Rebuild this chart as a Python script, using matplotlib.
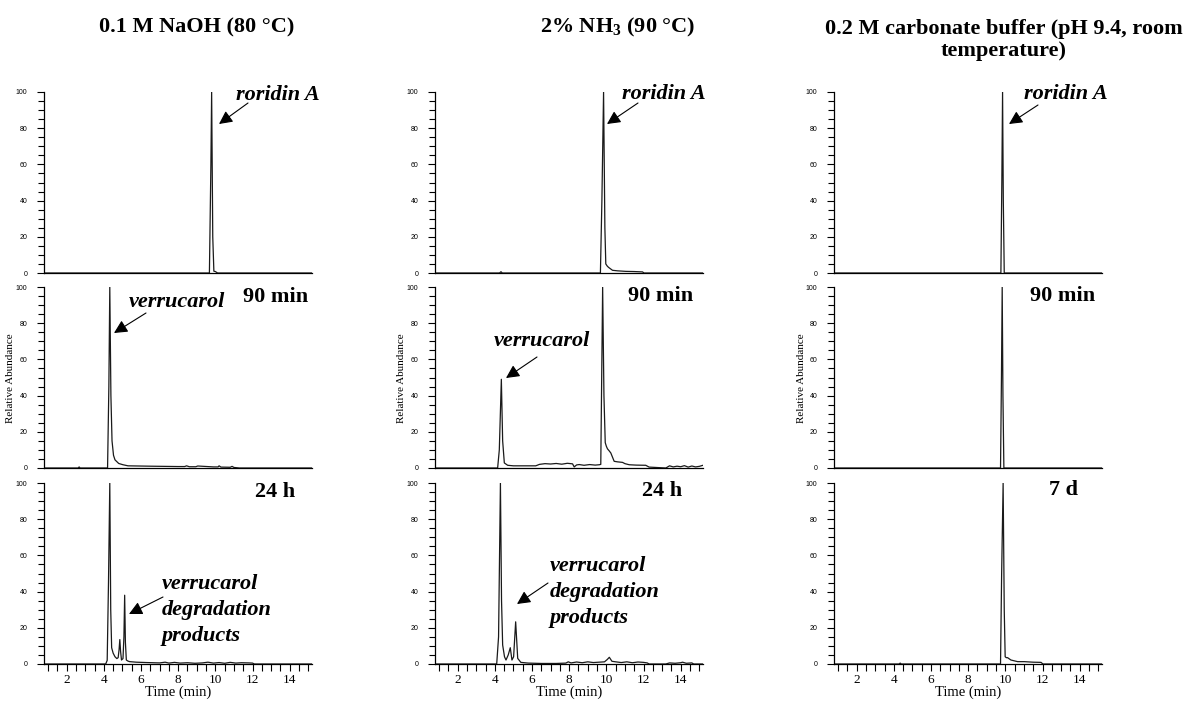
#!/usr/bin/env python3
"""
Chromatograms of roridin A degradation under three conditions
(NaOH / NH3 / carbonate buffer), three time points each.
"""
import matplotlib
matplotlib.use("Agg")
import matplotlib.pyplot as plt
from matplotlib.patches import FancyArrowPatch
from matplotlib.ticker import MultipleLocator

# --- traces: retention time (min) / relative abundance (%) ---
naoh_0_t = [0.78, 9.68, 9.76, 9.80, 9.86, 9.92, 10.0, 10.12, 15.2]
naoh_0_y = [0, 0, 60, 100, 20, 1, 0.8, 0, 0]

naoh_90_t = [0.78, 2.62, 2.67, 2.72, 4.20, 4.27, 4.32, 4.38, 4.44, 4.52, 4.60,
             4.80, 5.03, 5.30, 6.5, 8.0, 8.35, 8.45, 8.6, 8.95, 9.05, 9.9,
             10.15, 10.2, 10.3, 10.8, 10.9, 11.0, 11.3, 15.2]
naoh_90_y = [0, 0, 0.6, 0, 0, 45, 100, 40, 15, 7, 4.5,
             2.5, 1.8, 1.2, 1.0, 0.8, 0.8, 1.2, 0.7, 0.7, 1.1, 0.6,
             0.6, 1.2, 0.5, 0.4, 0.9, 0.3, 0, 0]

naoh_24_t = [0.78, 4.10, 4.18, 4.25, 4.32, 4.37, 4.42, 4.50, 4.60, 4.70, 4.77,
             4.82, 4.86, 4.90, 4.95, 5.03, 5.08, 5.12, 5.16, 5.21, 5.30, 5.39,
             5.75, 6.3, 7.0, 7.3, 7.5, 7.8, 8.1, 8.5, 8.9, 9.3, 9.6, 9.9, 10.2,
             10.5, 10.8, 11.1, 11.4, 11.8, 12.0, 12.1, 15.2]
naoh_24_y = [0, 0, 2, 45, 100, 30, 9, 6, 4, 3, 3.5,
             8, 13.5, 7, 2.2, 3, 15, 38, 12, 2.2, 1.6, 1.3,
             1.0, 0.8, 0.6, 1.0, 0.5, 0.9, 0.5, 0.7, 0.4, 0.6, 1.0, 0.5, 0.8,
             0.4, 0.9, 0.5, 0.7, 0.6, 0.5, 0, 0]

nh3_0_t = [0.78, 4.25, 4.33, 4.40, 9.68, 9.76, 9.85, 9.92, 9.97, 10.05, 10.12,
           10.33, 10.6, 11.05, 11.5, 11.95, 12.02, 15.2]
nh3_0_y = [0, 0, 0.7, 0, 0, 40, 100, 25, 5, 3.8, 3.1,
           1.5, 1.2, 0.9, 0.8, 0.6, 0, 0]

nh3_90_t = [0.78, 4.15, 4.24, 4.35, 4.42, 4.51, 4.69, 5.0, 5.5, 6.2, 6.4, 6.7,
            7.0, 7.3, 7.6, 7.9, 8.18, 8.27, 8.4, 8.54, 8.8, 9.1, 9.4, 9.62,
            9.70, 9.80, 9.87, 9.94, 10.0, 10.06, 10.15, 10.24, 10.33, 10.42,
            10.6, 10.87, 11.0, 11.23, 11.6, 12.12, 12.3, 13.2, 13.4, 13.6,
            13.8, 14.0, 14.2, 14.4, 14.6, 14.8, 15.0, 15.2]
nh3_90_y = [0, 0, 10, 49, 15, 2.8, 1.5, 1.2, 1.2, 1.2, 2.0, 2.4,
            2.2, 2.5, 2.1, 2.6, 2.3, 0.6, 1.7, 1.9, 1.5, 1.9, 1.6, 1.8,
            2, 100, 40, 14, 12, 10.6, 9.5, 8.3, 6, 3.7,
            3.4, 3.1, 2.4, 1.8, 1.6, 1.5, 0.5, 0, 1.2, 0.6,
            1.0, 0.7, 1.3, 0.5, 1.1, 0.6, 0.9, 1.5]

nh3_24_t = [0.78, 4.10, 4.20, 4.30, 4.36, 4.42, 4.52, 4.60, 4.72, 4.83, 4.92,
            5.01, 5.12, 5.23, 5.40, 5.8, 6.5, 7.3, 7.82, 7.95, 8.1, 8.4, 8.7,
            9.0, 9.3, 9.6, 9.9, 10.05, 10.16, 10.3, 10.5, 10.8, 11.1, 11.4,
            11.7, 12.0, 12.2, 12.3, 13.2, 13.4, 13.7, 14.0, 14.1, 14.3, 14.6,
            14.7, 15.2]
nh3_24_y = [0, 0, 15, 100, 35, 10.5, 4, 2.2, 5, 9, 2.2,
            4, 23.3, 3.1, 0.9, 0.5, 0.3, 0.3, 0.5, 1.2, 0.6, 1.1, 0.7,
            1.2, 0.8, 1.0, 1.2, 2.5, 3.7, 1.5, 1.2, 0.8, 1.2, 0.7,
            1.1, 0.9, 0.6, 0, 0, 0.6, 0.4, 0.7, 1.0, 0.4, 0.6,
            0, 0]

carb_0_t = [0.78, 9.76, 9.81, 9.85, 9.89, 9.94, 15.2]
carb_0_y = [0, 0, 50, 100, 40, 0, 0]

carb_90_t = [0.78, 9.74, 9.79, 9.83, 9.87, 9.92, 15.2]
carb_90_y = [0, 0, 50, 100, 40, 0, 0]

carb_7d_t = [0.78, 4.28, 4.34, 4.40, 9.74, 9.80, 9.88, 9.94, 9.99, 10.05, 10.12,
             10.30, 10.66, 11.02, 11.5, 11.92, 12.02, 15.2]
carb_7d_y = [0, 0, 0.5, 0, 0, 50, 100, 30, 4, 3.5, 3.5,
             2.2, 1.3, 1.3, 1.0, 0.9, 0, 0]

conditions = ["0.1 M NaOH (80 °C)", "2% NH$_\\mathbf{3}$ (90 °C)",
              "0.2 M carbonate buffer (pH 9.4, room\ntemperature)"]

traces = [
    [(naoh_0_t, naoh_0_y), (naoh_90_t, naoh_90_y), (naoh_24_t, naoh_24_y)],
    [(nh3_0_t, nh3_0_y), (nh3_90_t, nh3_90_y), (nh3_24_t, nh3_24_y)],
    [(carb_0_t, carb_0_y), (carb_90_t, carb_90_y), (carb_7d_t, carb_7d_y)],
]

W, H = 1187, 705
XLIM = (0.78, 15.2)


def fig_xy(x, y):
    """pixel position (from top-left) -> figure fraction"""
    return x / W, 1 - y / H


def main():
    plt.rcParams["font.family"] = ["Liberation Serif", "DejaVu Serif"]
    plt.rcParams["mathtext.fontset"] = "custom"
    plt.rcParams["mathtext.rm"] = "Liberation Serif"
    plt.rcParams["mathtext.bf"] = "Liberation Serif:bold"
    fig = plt.figure(figsize=(W / 100, H / 100), dpi=100)

    col_left = [44, 435, 834]
    col_w = 268
    row_top = [92, 287, 483]
    row_h = 181
    line_col = "#1a1a1a"

    for c in range(3):
        for r in range(3):
            l, t = col_left[c], row_top[r]
            ax = fig.add_axes([l / W, 1 - (t + row_h) / H, col_w / W, row_h / H])
            tx, ty = traces[c][r]
            ax.plot(tx, ty, color=line_col, lw=0.9)
            ax.set_xlim(*XLIM)
            ax.set_ylim(0, 100)
            for s in ("top", "right"):
                ax.spines[s].set_visible(False)
            for s in ("left", "bottom"):
                ax.spines[s].set_linewidth(0.9)
                ax.spines[s].set_color("black")
            ax.yaxis.set_major_locator(MultipleLocator(20))
            ax.yaxis.set_minor_locator(MultipleLocator(5))
            ax.tick_params(axis="y", which="major", length=5, width=0.8,
                           pad=7, labelsize=5)
            ax.tick_params(axis="y", which="minor", length=4, width=0.8)
            for lab in ax.get_yticklabels():
                lab.set_fontfamily("Liberation Sans")
            if r == 2:
                ax.xaxis.set_minor_locator(MultipleLocator(0.5))
                ax.set_xticks(range(2, 15, 2))
                ax.tick_params(axis="x", which="both", length=5, width=0.8,
                               pad=2, labelsize=9.5)
                ax.set_xlabel("Time (min)", fontsize=10.5, labelpad=-0.5)
            else:
                ax.tick_params(axis="x", which="both", bottom=False,
                               labelbottom=False)

    # column titles
    title_kw = dict(fontsize=16, fontweight="bold", ha="center", va="center")
    fig.text(*fig_xy(197, 27), conditions[0], **title_kw)
    fig.text(*fig_xy(618, 27), conditions[1], **title_kw)
    fig.text(*fig_xy(1004, 40), conditions[2], linespacing=1.15, **title_kw)

    # y labels (middle row)
    for x in (11, 401, 801):
        fig.text(*fig_xy(x, 378), "Relative Abundance", rotation=90,
                 fontsize=8, ha="center", va="center")

    # time-point labels
    tl_kw = dict(fontsize=16, fontweight="bold", ha="left", va="center")
    fig.text(*fig_xy(243, 297), "90 min", **tl_kw)
    fig.text(*fig_xy(628, 296), "90 min", **tl_kw)
    fig.text(*fig_xy(1030, 296), "90 min", **tl_kw)
    fig.text(*fig_xy(255, 492), "24 h", **tl_kw)
    fig.text(*fig_xy(642, 491), "24 h", **tl_kw)
    fig.text(*fig_xy(1049, 490), "7 d", **tl_kw)

    # compound annotations with arrows
    ann_kw = dict(fontsize=16, fontweight="bold", fontstyle="italic",
                  ha="left", va="center")
    fig.text(*fig_xy(236, 95), "roridin A", **ann_kw)
    fig.text(*fig_xy(622, 94), "roridin A", **ann_kw)
    fig.text(*fig_xy(1024, 94), "roridin A", **ann_kw)
    fig.text(*fig_xy(129, 302), "verrucarol", **ann_kw)
    fig.text(*fig_xy(494, 341), "verrucarol", **ann_kw)
    fig.text(*fig_xy(162, 610), "verrucarol\ndegradation\nproducts",
             linespacing=1.4, **ann_kw)
    fig.text(*fig_xy(550, 592), "verrucarol\ndegradation\nproducts",
             linespacing=1.4, **ann_kw)

    arrows = [((248, 103), (219, 124)), ((638, 103), (607, 124)),
              ((1038, 105), (1009, 124)), ((146, 313), (114, 333)),
              ((537, 357), (506, 378)), ((163, 597), (129, 614)),
              ((548, 583), (517, 604))]
    for tail, tip in arrows:
        fig.add_artist(FancyArrowPatch(
            fig_xy(*tail), fig_xy(*tip), transform=fig.transFigure,
            arrowstyle="-|>", mutation_scale=20, lw=0.8, color="black",
            shrinkA=0, shrinkB=0))

    fig.savefig("out.png", dpi=100)


if __name__ == "__main__":
    main()
